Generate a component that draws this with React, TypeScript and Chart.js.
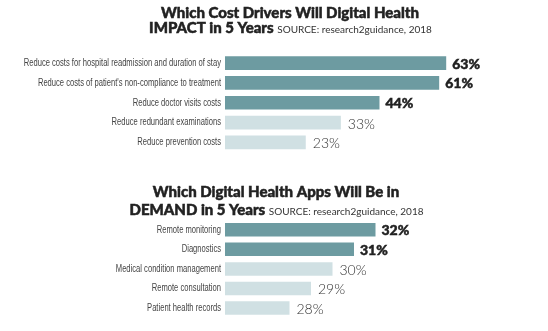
import React, { useEffect, useRef } from "react";
import { Chart, registerables } from "chart.js";
Chart.register(...registerables);

const costLabels = [
  "Reduce costs for hospital readmission and duration of stay",
  "Reduce costs of patient's non-compliance to treatment",
  "Reduce doctor visits costs",
  "Reduce redundant examinations",
  "Reduce prevention costs",
];
const costValues = [63, 61, 44, 33, 23];
const costHighlight = [true, true, true, false, false];

const appLabels = [
  "Remote monitoring",
  "Diagnostics",
  "Medical condition management",
  "Remote consultation",
  "Patient health records",
];
const appValues = [32, 31, 30, 29, 28];
const appHighlight = [true, true, false, false, false];

const DARK = "#6d9ba1";
const LIGHT = "#d0e0e3";
const CONDENSE = 0.76;

type Cfg = {
  labels: string[];
  values: number[];
  highlight: boolean[];
  min: number;
  max: number;
  padTop: number;
  padBottom: number;
  padRight: number;
  height: number;
  title1: string;
  title2: string;
  source: string;
  cx: number;
  y1: number;
  y2: number;
};

function heavyText(ctx: CanvasRenderingContext2D, t: string, x: number, y: number, lw: number) {
  ctx.fillText(t, x, y);
  ctx.lineWidth = lw;
  ctx.strokeStyle = ctx.fillStyle as string;
  ctx.strokeText(t, x, y);
}

const textPlugin = {
  id: "texts",
  afterDatasetsDraw(chart: any, _args: any, opts: any) {
    const ctx = chart.ctx as CanvasRenderingContext2D;
    const c: Cfg = opts.cfg;
    ctx.save();
    ctx.textBaseline = "alphabetic";
    // title line 1
    ctx.fillStyle = "#222";
    ctx.font = "900 15px Lato";
    ctx.textAlign = "center";
    heavyText(ctx, c.title1, c.cx, c.y1, 0.5);
    // title line 2 mixed
    ctx.font = "900 15px Lato";
    const w1 = ctx.measureText(c.title2).width;
    ctx.font = "400 10px Lato";
    const w2 = ctx.measureText(" " + c.source).width;
    const start = c.cx - (w1 + w2) / 2;
    ctx.textAlign = "left";
    ctx.font = "900 15px Lato";
    ctx.fillStyle = "#222";
    heavyText(ctx, c.title2, start, c.y2, 0.5);
    ctx.font = "400 10px Lato";
    ctx.fillStyle = "#333";
    ctx.fillText(" " + c.source, start + w1 + 1, c.y2);

    // category labels (condensed)
    const yScale = chart.scales.y;
    ctx.font = "10px 'Liberation Sans', Arial, sans-serif";
    ctx.fillStyle = "#444";
    ctx.textAlign = "right";
    ctx.textBaseline = "middle";
    c.labels.forEach((lab, i) => {
      const y = yScale.getPixelForTick(i);
      ctx.save();
      ctx.translate(yScale.right - 4, y);
      ctx.scale(CONDENSE, 1);
      ctx.fillText(lab, 0, 0);
      ctx.restore();
    });

    // value labels
    const meta = chart.getDatasetMeta(0);
    ctx.textAlign = "left";
    meta.data.forEach((bar: any, i: number) => {
      const v = c.values[i];
      if (c.highlight[i]) {
        ctx.font = "900 14px Lato";
        ctx.fillStyle = "#222";
        heavyText(ctx, v + "%", bar.x + 6, bar.y + 1, 0.5);
      } else {
        ctx.font = "300 14px Lato";
        ctx.fillStyle = "#333";
        ctx.fillText(v + "%", bar.x + 7, bar.y + 1.5);
      }
    });
    ctx.restore();
  },
};

function BarPanel({ c }: { c: Cfg }) {
  const ref = useRef<HTMLCanvasElement>(null);
  useEffect(() => {
    if (!ref.current) return;
    const chart = new Chart(ref.current, {
      type: "bar",
      data: {
        labels: c.labels,
        datasets: [
          {
            data: c.values,
            backgroundColor: c.highlight.map((h) => (h ? DARK : LIGHT)),
            borderWidth: 0,
            categoryPercentage: 1,
            barPercentage: 0.69,
          },
        ],
      },
      options: {
        indexAxis: "y",
        responsive: false,
        animation: false,
        layout: {
          padding: { top: c.padTop, bottom: c.padBottom, left: 0, right: c.padRight },
        },
        plugins: {
          legend: { display: false },
          tooltip: { enabled: false },
          texts: { cfg: c },
        } as any,
        scales: {
          x: { display: false, min: c.min, max: c.max },
          y: {
            grid: { display: false, drawTicks: false },
            border: { display: false },
            ticks: { display: false },
            afterFit: (scale: any) => {
              scale.width = 225;
            },
          },
        },
      },
      plugins: [textPlugin],
    });
    return () => chart.destroy();
  }, []);
  return <canvas ref={ref} width={548} height={c.height} style={{ display: "block" }} />;
}

const top: Cfg = {
  labels: costLabels,
  values: costValues,
  highlight: costHighlight,
  min: 0,
  max: 90,
  padTop: 53.2,
  padBottom: 7.7,
  padRight: 7,
  height: 160,
  title1: "Which Cost Drivers Will Digital Health",
  title2: "IMPACT in 5 Years",
  source: "SOURCE: research2guidance, 2018",
  cx: 290,
  y1: 17.5,
  y2: 33,
};

const bottom: Cfg = {
  labels: appLabels,
  values: appValues,
  highlight: appHighlight,
  min: 25,
  max: 40,
  padTop: 60,
  padBottom: 13.2,
  padRight: 0.5,
  height: 171,
  title1: "Which Digital Health Apps Will Be in",
  title2: "DEMAND in 5 Years",
  source: "SOURCE: research2guidance, 2018",
  cx: 276,
  y1: 37,
  y2: 55,
};

export default function App() {
  return (
    <div style={{ position: "fixed", left: 0, top: 0, width: 548, height: 331, background: "#fff" }}>
      <BarPanel c={top} />
      <BarPanel c={bottom} />
    </div>
  );
}
